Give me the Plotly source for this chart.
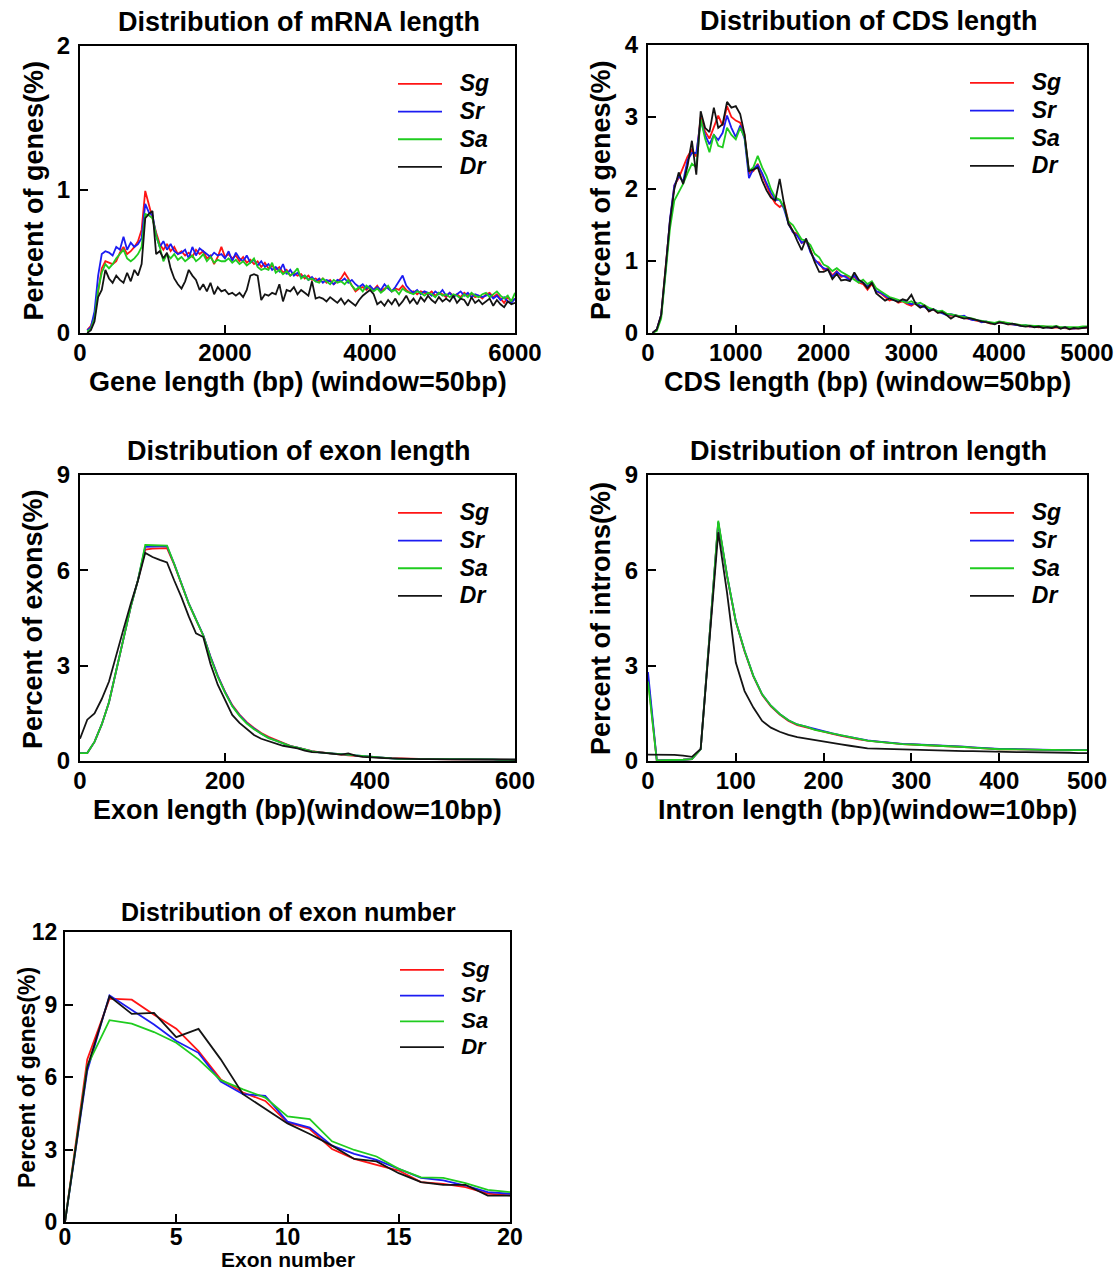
import plotly.graph_objects as go

W, H = 1118, 1272
FONT = "Liberation Sans, Arial, Helvetica, sans-serif"

SPECIES = ["Sg", "Sr", "Sa", "Dr"]
COLORS = {"Sg": "#ff1414", "Sr": "#1c1cf2", "Sa": "#1fcc1f", "Dr": "#141414"}

# ---------------- mRNA length (window = 50 bp) ----------------
mrna_x = list(range(100, 6001, 50))
mrna_sg = [
    0.02, 0.05, 0.12, 0.30, 0.45, 0.50, 0.49, 0.48, 0.50, 0.56,
    0.60, 0.55, 0.57, 0.60, 0.64, 0.72, 0.99, 0.90, 0.80, 0.70,
    0.62, 0.58, 0.62, 0.57, 0.60, 0.55, 0.57, 0.54, 0.56, 0.53,
    0.58, 0.55, 0.57, 0.52, 0.54, 0.48, 0.53, 0.60, 0.53, 0.55,
    0.52, 0.54, 0.50, 0.53, 0.49, 0.51, 0.48, 0.50, 0.46, 0.49,
    0.45, 0.47, 0.44, 0.46, 0.42, 0.44, 0.40, 0.42, 0.40, 0.41,
    0.38, 0.40, 0.37, 0.38, 0.36, 0.38, 0.35, 0.37, 0.34, 0.36,
    0.38, 0.42, 0.38, 0.33, 0.29, 0.31, 0.32, 0.30, 0.32, 0.30,
    0.33, 0.29, 0.31, 0.32, 0.29, 0.31, 0.30, 0.33, 0.30, 0.28,
    0.29, 0.27, 0.29, 0.28, 0.27, 0.29, 0.26, 0.28, 0.27, 0.25,
    0.28, 0.26, 0.27, 0.25, 0.28, 0.26, 0.27, 0.25, 0.26, 0.24,
    0.27, 0.28, 0.25, 0.27, 0.24, 0.21, 0.25, 0.22, 0.24,
]
mrna_sr = [
    0.02, 0.04, 0.15, 0.40, 0.55, 0.57, 0.56, 0.54, 0.60, 0.58,
    0.67, 0.58, 0.63, 0.60, 0.62, 0.66, 0.90, 0.84, 0.82, 0.68,
    0.60, 0.64, 0.58, 0.62, 0.57, 0.55, 0.56, 0.58, 0.52, 0.60,
    0.54, 0.59, 0.57, 0.55, 0.53, 0.56, 0.54, 0.55, 0.52, 0.57,
    0.50, 0.56, 0.52, 0.50, 0.54, 0.49, 0.51, 0.47, 0.50, 0.46,
    0.48, 0.44, 0.46, 0.43, 0.48, 0.41, 0.44, 0.40, 0.42, 0.39,
    0.40, 0.37, 0.39, 0.36, 0.38, 0.35, 0.37, 0.36, 0.34, 0.37,
    0.36, 0.38, 0.35, 0.37, 0.34, 0.32, 0.34, 0.31, 0.33, 0.30,
    0.32, 0.30, 0.34, 0.31, 0.29, 0.32, 0.36, 0.40, 0.33, 0.30,
    0.28, 0.30, 0.27, 0.29, 0.28, 0.26, 0.29, 0.27, 0.30, 0.26,
    0.28, 0.25, 0.27, 0.29, 0.26, 0.28, 0.25, 0.27, 0.26, 0.25,
    0.26, 0.27, 0.24, 0.26, 0.23, 0.25, 0.22, 0.21, 0.24,
]
mrna_sa = [
    0.01, 0.03, 0.10, 0.30, 0.42, 0.48, 0.45, 0.48, 0.52, 0.55,
    0.58, 0.52, 0.50, 0.52, 0.55, 0.60, 0.83, 0.82, 0.80, 0.68,
    0.60, 0.50, 0.55, 0.52, 0.55, 0.51, 0.53, 0.50, 0.52, 0.54,
    0.50, 0.52, 0.55, 0.50, 0.53, 0.49, 0.51, 0.50, 0.50, 0.52,
    0.49, 0.51, 0.48, 0.50, 0.47, 0.49, 0.52, 0.46, 0.44, 0.45,
    0.44, 0.49, 0.42, 0.44, 0.41, 0.43, 0.40, 0.42, 0.45, 0.38,
    0.40, 0.37, 0.38, 0.36, 0.35, 0.38, 0.36, 0.34, 0.37, 0.35,
    0.36, 0.34, 0.37, 0.33, 0.30, 0.32, 0.29, 0.33, 0.31, 0.29,
    0.31, 0.28, 0.30, 0.33, 0.29, 0.30, 0.27, 0.31, 0.29, 0.28,
    0.27, 0.29, 0.28, 0.26, 0.28, 0.27, 0.25, 0.28, 0.26, 0.27,
    0.25, 0.27, 0.26, 0.24, 0.27, 0.25, 0.28, 0.26, 0.25, 0.27,
    0.28, 0.25, 0.27, 0.29, 0.26, 0.24, 0.26, 0.22, 0.28,
]
mrna_dr = [
    0.00, 0.02, 0.08, 0.25, 0.30, 0.44, 0.38, 0.35, 0.40, 0.37,
    0.35, 0.42, 0.36, 0.44, 0.40, 0.48, 0.80, 0.83, 0.85, 0.55,
    0.57, 0.52, 0.56, 0.45, 0.38, 0.34, 0.31, 0.36, 0.44, 0.40,
    0.37, 0.30, 0.34, 0.29, 0.35, 0.27, 0.32, 0.29, 0.30, 0.27,
    0.28, 0.26, 0.28, 0.25, 0.30, 0.40, 0.41, 0.40, 0.23, 0.27,
    0.26, 0.28, 0.27, 0.34, 0.22, 0.30, 0.29, 0.32, 0.27, 0.30,
    0.28, 0.26, 0.36, 0.24, 0.25, 0.24, 0.22, 0.25, 0.23, 0.21,
    0.24, 0.20, 0.23, 0.21, 0.19, 0.23, 0.26, 0.28, 0.30, 0.27,
    0.20, 0.22, 0.19, 0.23, 0.20, 0.24, 0.19, 0.22, 0.26, 0.21,
    0.24, 0.20, 0.25, 0.22, 0.26, 0.23, 0.21, 0.25, 0.22, 0.24,
    0.22, 0.26, 0.21, 0.24, 0.23, 0.19, 0.25, 0.21, 0.23, 0.20,
    0.22, 0.24, 0.19, 0.23, 0.20, 0.18, 0.22, 0.20, 0.21,
]

# ---------------- CDS length (window = 50 bp) ----------------
cds_x = list(range(50, 5001, 50))
cds_sg = [
    0.00, 0.05, 0.25, 0.88, 1.55, 2.05, 2.15, 2.30, 2.45, 2.55,
    2.45, 3.00, 2.80, 2.70, 2.85, 3.02, 2.88, 3.15, 3.00, 2.95,
    2.92, 2.75, 2.22, 2.25, 2.35, 2.20, 2.05, 1.90, 1.80, 1.75,
    1.80, 1.55, 1.40, 1.38, 1.25, 1.28, 1.15, 1.00, 0.98, 0.88,
    0.90, 0.80, 0.86, 0.78, 0.80, 0.75, 0.78, 0.70, 0.68, 0.60,
    0.68, 0.58, 0.55, 0.50, 0.45, 0.47, 0.42, 0.44, 0.40, 0.38,
    0.42, 0.36, 0.38, 0.30, 0.33, 0.28, 0.30, 0.26, 0.24, 0.25,
    0.22, 0.21, 0.20, 0.18, 0.17, 0.15, 0.15, 0.13, 0.13, 0.14,
    0.15, 0.12, 0.12, 0.11, 0.10, 0.10, 0.09, 0.09, 0.08, 0.09,
    0.08, 0.07, 0.08, 0.07, 0.07, 0.06, 0.06, 0.06, 0.07, 0.07,
]
cds_sr = [
    0.00, 0.05, 0.25, 0.86, 1.58, 2.05, 2.18, 2.10, 2.40, 2.50,
    2.50, 2.95, 2.75, 2.62, 2.75, 2.68, 2.78, 3.02, 2.85, 2.72,
    2.88, 2.70, 2.15, 2.28, 2.33, 2.22, 2.08, 1.95, 1.85, 1.85,
    1.72, 1.52, 1.40, 1.35, 1.25, 1.30, 1.12, 1.02, 0.95, 0.90,
    0.88, 0.78, 0.85, 0.80, 0.78, 0.73, 0.80, 0.72, 0.70, 0.65,
    0.70, 0.58, 0.56, 0.52, 0.48, 0.46, 0.44, 0.46, 0.42, 0.40,
    0.42, 0.38, 0.36, 0.32, 0.33, 0.30, 0.27, 0.25, 0.26, 0.24,
    0.23, 0.24, 0.20, 0.18, 0.18, 0.15, 0.16, 0.14, 0.13, 0.15,
    0.14, 0.13, 0.12, 0.12, 0.10, 0.11, 0.09, 0.10, 0.09, 0.09,
    0.08, 0.08, 0.09, 0.07, 0.08, 0.07, 0.06, 0.07, 0.07, 0.08,
]
cds_sa = [
    0.00, 0.03, 0.20, 0.80, 1.45, 1.84, 1.95, 2.07, 2.22, 2.35,
    2.30, 2.97, 2.70, 2.51, 2.76, 2.60, 2.58, 2.85, 2.75, 2.69,
    2.85, 2.72, 2.25, 2.30, 2.46, 2.30, 2.18, 2.00, 1.88, 1.85,
    1.75, 1.55, 1.50, 1.40, 1.30, 1.28, 1.22, 1.10, 1.05, 0.95,
    0.92, 0.86, 0.90, 0.85, 0.82, 0.78, 0.74, 0.70, 0.74, 0.68,
    0.72, 0.62, 0.58, 0.54, 0.50, 0.48, 0.46, 0.44, 0.42, 0.44,
    0.40, 0.42, 0.38, 0.35, 0.33, 0.30, 0.31, 0.27, 0.26, 0.25,
    0.24, 0.22, 0.21, 0.20, 0.18, 0.17, 0.16, 0.15, 0.14, 0.16,
    0.15, 0.13, 0.13, 0.12, 0.11, 0.11, 0.10, 0.10, 0.10, 0.09,
    0.09, 0.09, 0.10, 0.08, 0.08, 0.08, 0.07, 0.08, 0.09, 0.09,
]
cds_dr = [
    0.00, 0.05, 0.25, 0.85, 1.55, 2.00, 2.23, 2.07, 2.32, 2.67,
    2.20, 3.08, 2.85, 2.79, 3.13, 2.85, 2.90, 3.21, 3.13, 3.15,
    3.04, 2.76, 2.25, 2.27, 2.30, 2.12, 1.98, 1.88, 1.84, 2.14,
    1.79, 1.51, 1.42, 1.28, 1.15, 1.31, 1.15, 0.98, 0.85, 0.85,
    0.88, 0.75, 0.82, 0.73, 0.74, 0.72, 0.84, 0.74, 0.70, 0.62,
    0.70, 0.55, 0.50, 0.45, 0.48, 0.46, 0.43, 0.47, 0.45, 0.53,
    0.40, 0.35, 0.38, 0.30, 0.33, 0.28, 0.29, 0.25, 0.20, 0.24,
    0.22, 0.20, 0.21, 0.19, 0.17, 0.16, 0.15, 0.13, 0.12, 0.15,
    0.14, 0.12, 0.13, 0.11, 0.10, 0.09, 0.10, 0.08, 0.09, 0.07,
    0.08, 0.07, 0.09, 0.06, 0.08, 0.05, 0.07, 0.06, 0.07, 0.08,
]

# ---------------- exon length (window = 10 bp) ----------------
exon_x = list(range(0, 601, 10))
exon_sg = [
    0.25, 0.25, 0.60, 1.15, 1.85, 2.85, 3.90, 4.85, 5.70, 6.65,
    6.68, 6.68, 6.70, 6.18, 5.55, 4.95, 4.45, 3.95, 3.28, 2.68,
    2.18, 1.76, 1.46, 1.22, 1.04, 0.88, 0.76, 0.66, 0.56, 0.48,
    0.42, 0.36, 0.31, 0.28, 0.25, 0.22, 0.20, 0.18, 0.16, 0.14,
    0.12, 0.11, 0.10, 0.09, 0.08, 0.07, 0.07, 0.06, 0.06, 0.06,
    0.05, 0.05, 0.05, 0.06, 0.06, 0.05, 0.05, 0.06, 0.05, 0.05,
    0.04,
]
exon_sr = [
    0.25, 0.25, 0.60, 1.15, 1.85, 2.85, 3.90, 4.85, 5.70, 6.74,
    6.75, 6.75, 6.76, 6.20, 5.56, 4.96, 4.46, 3.96, 3.28, 2.68,
    2.17, 1.74, 1.44, 1.20, 1.02, 0.86, 0.73, 0.64, 0.55, 0.47,
    0.42, 0.36, 0.30, 0.27, 0.25, 0.22, 0.20, 0.18, 0.16, 0.14,
    0.12, 0.10, 0.09, 0.08, 0.07, 0.07, 0.06, 0.06, 0.06, 0.05,
    0.05, 0.05, 0.05, 0.05, 0.06, 0.05, 0.05, 0.05, 0.04, 0.04,
    0.04,
]
exon_sa = [
    0.25, 0.25, 0.60, 1.15, 1.85, 2.85, 3.90, 4.85, 5.70, 6.80,
    6.79, 6.78, 6.78, 6.20, 5.55, 4.95, 4.45, 3.95, 3.25, 2.65,
    2.15, 1.72, 1.42, 1.18, 1.00, 0.85, 0.72, 0.64, 0.55, 0.47,
    0.42, 0.36, 0.30, 0.27, 0.25, 0.22, 0.20, 0.18, 0.16, 0.14,
    0.12, 0.10, 0.09, 0.08, 0.07, 0.07, 0.06, 0.06, 0.06, 0.05,
    0.05, 0.05, 0.05, 0.05, 0.06, 0.05, 0.05, 0.05, 0.04, 0.04,
    0.04,
]
exon_dr = [
    0.70, 1.30, 1.50, 1.95, 2.50, 3.35, 4.15, 4.95, 5.68, 6.55,
    6.42, 6.33, 6.25, 5.68, 5.15, 4.55, 4.02, 3.90, 3.05, 2.40,
    1.90, 1.45, 1.20, 1.00, 0.82, 0.70, 0.62, 0.55, 0.48, 0.44,
    0.40, 0.33, 0.28, 0.27, 0.25, 0.22, 0.20, 0.24, 0.17, 0.13,
    0.11, 0.10, 0.09, 0.08, 0.07, 0.07, 0.06, 0.06, 0.06, 0.05,
    0.05, 0.05, 0.05, 0.05, 0.06, 0.05, 0.05, 0.06, 0.04, 0.04,
    0.04,
]

# ---------------- intron length (window = 10 bp) ----------------
intron_x = list(range(0, 501, 10))
intron_sg = [
    2.60, 0.02, 0.03, 0.03, 0.04, 0.06, 0.37, 3.90, 7.50, 5.82,
    4.38, 3.45, 2.66, 2.08, 1.72, 1.46, 1.26, 1.13, 1.06, 0.97,
    0.91, 0.85, 0.79, 0.73, 0.68, 0.64, 0.61, 0.58, 0.55, 0.53,
    0.52, 0.51, 0.50, 0.49, 0.47, 0.46, 0.44, 0.42, 0.40, 0.38,
    0.37, 0.37, 0.36, 0.36, 0.35, 0.35, 0.35, 0.34, 0.34, 0.34,
    0.34,
]
intron_sr = [
    2.80, 0.02, 0.03, 0.03, 0.04, 0.06, 0.37, 3.90, 7.52, 5.84,
    4.40, 3.47, 2.68, 2.10, 1.74, 1.48, 1.28, 1.15, 1.08, 0.99,
    0.93, 0.87, 0.81, 0.75, 0.69, 0.65, 0.62, 0.59, 0.56, 0.54,
    0.53, 0.52, 0.51, 0.50, 0.48, 0.47, 0.45, 0.43, 0.41, 0.39,
    0.38, 0.38, 0.37, 0.37, 0.36, 0.36, 0.35, 0.35, 0.35, 0.34,
    0.34,
]
intron_sa = [
    2.50, 0.02, 0.03, 0.03, 0.04, 0.06, 0.37, 3.90, 7.56, 5.85,
    4.40, 3.47, 2.68, 2.10, 1.74, 1.48, 1.28, 1.15, 1.08, 0.98,
    0.92, 0.86, 0.80, 0.74, 0.68, 0.64, 0.61, 0.58, 0.55, 0.53,
    0.52, 0.51, 0.50, 0.49, 0.47, 0.46, 0.44, 0.42, 0.40, 0.38,
    0.37, 0.37, 0.36, 0.36, 0.35, 0.35, 0.35, 0.34, 0.34, 0.34,
    0.34,
]
intron_dr = [
    0.20, 0.20, 0.18, 0.19, 0.17, 0.13, 0.38, 3.75, 7.20, 5.30,
    3.10, 2.20, 1.68, 1.26, 1.05, 0.92, 0.82, 0.75, 0.70, 0.65,
    0.60, 0.56, 0.52, 0.48, 0.44, 0.40, 0.39, 0.38, 0.38, 0.37,
    0.37, 0.36, 0.35, 0.34, 0.33, 0.32, 0.31, 0.31, 0.30, 0.30,
    0.29, 0.29, 0.28, 0.28, 0.28, 0.27, 0.27, 0.26, 0.26, 0.25,
    0.25,
]

# ---------------- exon number ----------------
exnum_x = list(range(0, 21))
exnum_sg = [0, 6.73, 9.24, 9.20, 8.58, 8.00, 7.07, 5.90, 5.36, 5.01, 4.12,
            3.85, 3.02, 2.61, 2.36, 2.13, 1.65, 1.58, 1.44, 1.17, 1.10]
exnum_sr = [0, 6.25, 9.38, 8.79, 8.17, 7.49, 7.00, 5.81, 5.29, 5.22, 4.15,
            3.91, 3.16, 2.82, 2.57, 2.20, 1.83, 1.72, 1.51, 1.24, 1.17]
exnum_sa = [0, 6.46, 8.35, 8.21, 7.86, 7.42, 6.73, 5.87, 5.49, 5.15, 4.37,
            4.26, 3.34, 2.98, 2.71, 2.20, 1.85, 1.83, 1.61, 1.33, 1.24]
exnum_dr = [0, 6.39, 9.34, 8.61, 8.65, 7.65, 7.99, 6.73, 5.29, 4.67, 4.08,
            3.64, 3.16, 2.61, 2.51, 2.02, 1.65, 1.54, 1.54, 1.09, 1.09]

PANELS = [
    dict(title="Distribution of mRNA length", xtitle="Gene length (bp) (window=50bp)",
         ytitle="Percent of genes(%)", x=mrna_x,
         ys={"Sg": mrna_sg, "Sr": mrna_sr, "Sa": mrna_sa, "Dr": mrna_dr},
         xr=[0, 6000], xt=[0, 2000, 4000, 6000], yr=[0, 2], yt=[0, 1, 2],
         box=(80, 515, 46, 333), big=True),
    dict(title="Distribution of CDS length", xtitle="CDS length (bp) (window=50bp)",
         ytitle="Percent of genes(%)", x=cds_x,
         ys={"Sg": cds_sg, "Sr": cds_sr, "Sa": cds_sa, "Dr": cds_dr},
         xr=[0, 5000], xt=[0, 1000, 2000, 3000, 4000, 5000], yr=[0, 4], yt=[0, 1, 2, 3, 4],
         box=(648, 1087, 45, 333), big=True),
    dict(title="Distribution of exon length", xtitle="Exon length (bp)(window=10bp)",
         ytitle="Percent of exons(%)", x=exon_x,
         ys={"Sg": exon_sg, "Sr": exon_sr, "Sa": exon_sa, "Dr": exon_dr},
         xr=[0, 600], xt=[0, 200, 400, 600], yr=[0, 9], yt=[0, 3, 6, 9],
         box=(80, 515, 475, 761), big=True),
    dict(title="Distribution of intron length", xtitle="Intron length (bp)(window=10bp)",
         ytitle="Percent of introns(%)", x=intron_x,
         ys={"Sg": intron_sg, "Sr": intron_sr, "Sa": intron_sa, "Dr": intron_dr},
         xr=[0, 500], xt=[0, 100, 200, 300, 400, 500], yr=[0, 9], yt=[0, 3, 6, 9],
         box=(648, 1087, 475, 761), big=True),
    dict(title="Distribution of exon number", xtitle="Exon number",
         ytitle="Percent of genes(%)", x=exnum_x,
         ys={"Sg": exnum_sg, "Sr": exnum_sr, "Sa": exnum_sa, "Dr": exnum_dr},
         xr=[0, 20], xt=[0, 5, 10, 15, 20], yr=[0, 12], yt=[0, 3, 6, 9, 12],
         box=(65, 510, 932, 1222), big=False),
]


def fx(p):
    return p / W


def fy(p):
    return 1 - p / H


fig = go.Figure()
annotations = []
layout = dict(
    width=W, height=H, autosize=False,
    margin=dict(l=0, r=0, t=0, b=0, pad=0, autoexpand=False),
    paper_bgcolor="white", plot_bgcolor="white",
    font=dict(family=FONT, color="black"),
    showlegend=True,
)

for i, p in enumerate(PANELS):
    n = i + 1
    sfx = "" if n == 1 else str(n)
    xa, ya = "x" + sfx, "y" + sfx
    leg = "legend" + sfx
    x0, x1, y0, y1 = p["box"]
    big = p["big"]
    tick_size = 24 if big else 23
    leg_txt = 23 if big else 22
    for sp in SPECIES:
        label = '<span style="font-size:%dpx">&nbsp;&nbsp;%s</span>' % (leg_txt, sp)
        fig.add_trace(go.Scatter(
            x=p["x"], y=p["ys"][sp], mode="lines", name=label,
            line=dict(color=COLORS[sp], width=1.8),
            xaxis=xa, yaxis=ya, legend=leg, showlegend=True,
            hoverinfo="skip",
        ))
    axis_common = dict(
        showline=True, linewidth=2, linecolor="black", mirror=True,
        ticks="inside", ticklen=8, tickwidth=2, tickcolor="black",
        showgrid=False, zeroline=False, automargin=False,
        tickfont=dict(family=FONT, size=tick_size, color="black", weight="bold"),
    )
    layout["xaxis" + sfx] = dict(
        axis_common, domain=[fx(x0), fx(x1)], range=p["xr"], tickvals=p["xt"],
        anchor=ya, fixedrange=True, ticklabelstandoff=-3 if big else -7,
    )
    layout["yaxis" + sfx] = dict(
        axis_common, domain=[fy(y1), fy(y0)], range=p["yr"], tickvals=p["yt"],
        anchor=xa, fixedrange=True, ticklabelstandoff=3 if big else 1,
    )
    cx = (x0 + x1) / 2
    cy = (y0 + y1) / 2
    title_size = 27 if big else 25
    axt_size = 27 if big else 21
    ytitle_size = 27 if big else 23
    annotations.append(dict(
        text="<b>%s</b>" % p["title"], x=fx(cx + 1), y=fy(y0 - 24 if big else y0 - 20),
        xref="paper", yref="paper", xanchor="center", yanchor="middle",
        showarrow=False, font=dict(family=FONT, size=title_size, color="black"),
    ))
    annotations.append(dict(
        text="<b>%s</b>" % p["xtitle"], x=fx(cx), y=fy(y1 + (49 if big else 37)),
        xref="paper", yref="paper", xanchor="center", yanchor="middle",
        showarrow=False, font=dict(family=FONT, size=axt_size, color="black"),
    ))
    annotations.append(dict(
        text="<b>%s</b>" % p["ytitle"], x=fx(x0 - (47 if big else 38)), y=fy(cy + 1),
        xref="paper", yref="paper", xanchor="center", yanchor="middle",
        textangle=-90, showarrow=False,
        font=dict(family=FONT, size=ytitle_size, color="black"),
    ))
    leg_x = x1 - (122 if big else 115)
    layout[leg] = dict(
        x=fx(leg_x), y=fy(y0 + (19 if big else 20)), xanchor="left", yanchor="top",
        bgcolor="rgba(0,0,0,0)", borderwidth=0,
        font=dict(family=FONT, size=19 if big else 17.5, color="black",
                  weight="bold", style="italic"),
        itemwidth=44, tracegroupgap=0,
    )

layout["annotations"] = annotations
fig.update_layout(**layout)

fig.write_html(
    "out.html", include_plotlyjs=True, config={"displayModeBar": False},
    post_script="document.body.style.margin='0px';document.body.style.overflow='hidden';",
)
